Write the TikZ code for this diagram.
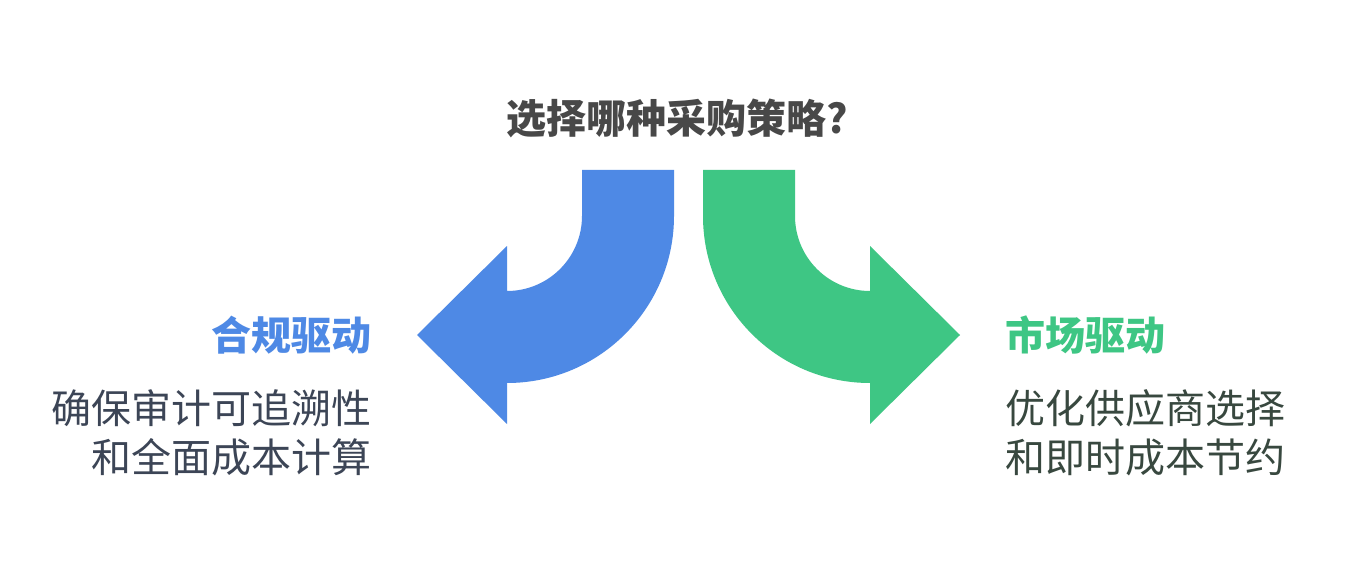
\documentclass[tikz,border=0pt]{standalone}
\usepackage{fontspec}
\setmainfont{Noto Sans CJK SC}
\definecolor{cblue}{HTML}{4E89E5}
\definecolor{cgreen}{HTML}{3EC684}
\definecolor{ctitle}{HTML}{484848}
\definecolor{cleft}{HTML}{3C4556}
\definecolor{cright}{HTML}{38483F}
\tikzset{
  lbl/.style={inner sep=0pt, font=\fontsize{30}{36}\selectfont\bfseries},
  body/.style={inner sep=0pt, font=\fontsize{30}{36.75}\selectfont},
}
\begin{document}
\begin{tikzpicture}[x=0.75pt,y=0.75pt]
\useasboundingbox[fill=white] (0,0) rectangle (1361,576);
% blue arrow
\fill[cblue] (582,406) -- (674,406) -- (674,360)
  arc[start angle=0,end angle=-90,radius=167]
  -- (507,152) -- (417,241) -- (507,330) -- (507,285)
  arc[start angle=-90,end angle=0,radius=75] -- cycle;
% green arrow
\fill[cgreen] (795,406) -- (703,406) -- (703,360)
  arc[start angle=180,end angle=270,radius=167]
  -- (870,152) -- (960,241) -- (870,330) -- (870,285)
  arc[start angle=270,end angle=180,radius=75] -- cycle;
\node[lbl, text=ctitle] (title) at (677,458) {选择哪种采购策略?};
\node[lbl, text=cblue, anchor=east] (left) at (372,241) {合规驱动};
\node[lbl, text=cgreen, anchor=west] (right) at (1005,241) {市场驱动};
\node[body, text=cleft, anchor=east, align=right] (leftbody) at (372,143.5) {确保审计可追溯性\\和全面成本计算};
\node[body, text=cright, anchor=west, align=left] (rightbody) at (1005,143.5) {优化供应商选择\\和即时成本节约};
\end{tikzpicture}
\end{document}
